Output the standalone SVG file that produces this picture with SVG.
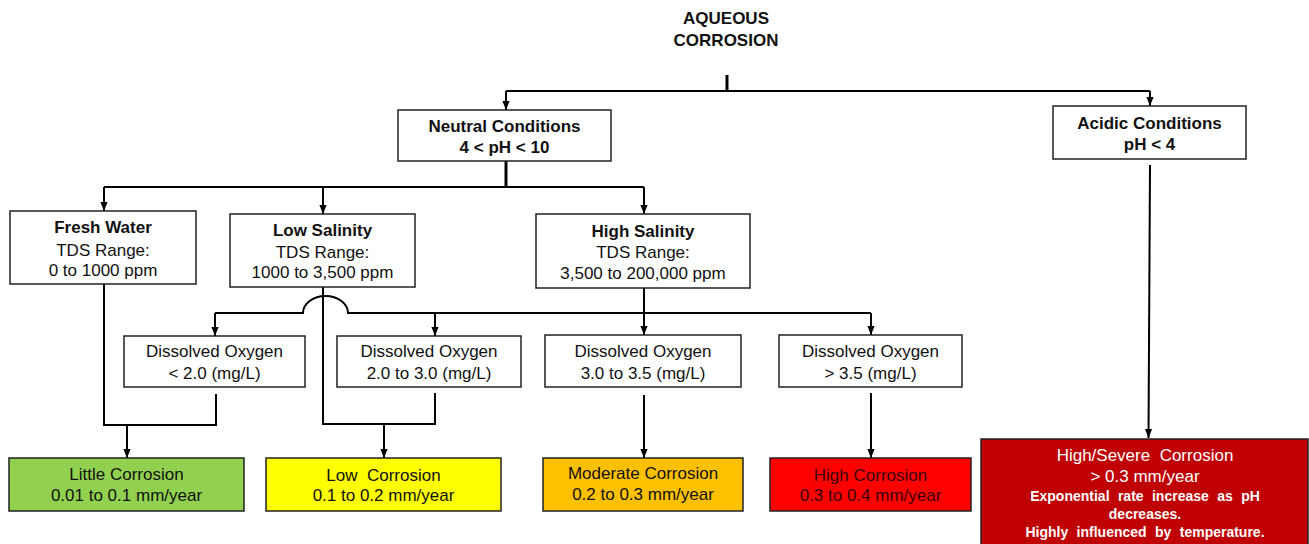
<svg xmlns="http://www.w3.org/2000/svg" width="1309" height="544" viewBox="0 0 1309 544">
<style>
  .bx{fill:#fff;stroke:#222;stroke-width:1.5}
  .t{font-family:"Liberation Sans",Arial,sans-serif;font-size:17px;fill:#111;text-anchor:middle}
  .b{font-weight:bold}
  .c{fill:none;stroke:#000;stroke-width:2}
  .ca{fill:none;stroke:#000;stroke-width:2;marker-end:url(#ah)}
  .w{fill:#fff}
  .sm{font-size:14px;font-weight:bold;word-spacing:4.5px}
</style>
<defs>
  <marker id="ah" viewBox="0 0 10 10" refX="10" refY="5" markerWidth="9" markerHeight="9" markerUnits="userSpaceOnUse" orient="auto">
    <path d="M0,1 L10,5 L0,9 z" fill="#000"/>
  </marker>
</defs>
<rect width="1309" height="544" fill="#fff"/>

<g id="connectors">
  <line x1="727" y1="75" x2="727" y2="91" stroke="#000" stroke-width="3"/>
  <path class="c" d="M506,91 H1150"/>
  <path class="ca" d="M506,91 V110"/>
  <path class="ca" d="M1150,91 V106"/>
  <line x1="506" y1="161" x2="506" y2="187" stroke="#000" stroke-width="3"/>
  <path class="c" d="M104,187 H644"/>
  <path class="ca" d="M104,187 V211"/>
  <path class="ca" d="M323,187 V214"/>
  <path class="ca" d="M644,187 V214"/>
  <path class="c" d="M644,288 V313"/>
  <path class="c" d="M215,313 H303 A22.5,17 0 0 1 348,313 H871"/>
  <path class="ca" d="M215,313 V336"/>
  <path class="ca" d="M435,313 V336"/>
  <path class="ca" d="M644,313 V335"/>
  <path class="ca" d="M871,313 V335"/>
  <path class="c" d="M104,284 V425 H216 V394"/>
  <path class="ca" d="M127,425 V458"/>
  <path class="c" d="M323,287 V424 H435 V393"/>
  <path class="ca" d="M384,424 V458"/>
  <path class="ca" d="M644,395 V458"/>
  <path class="ca" d="M871,393 V458"/>
  <path class="ca" d="M1150,165 L1148.5,438"/>
</g>

<g id="title">
  <text class="t b" x="726" y="24">AQUEOUS</text>
  <text class="t b" x="726" y="46">CORROSION</text>
</g>

<g id="neutral">
  <rect class="bx" x="398" y="110" width="213" height="51"/>
  <text class="t b" x="504.5" y="132">Neutral Conditions</text>
  <text class="t b" x="504.5" y="153">4 &lt; pH &lt; 10</text>
</g>

<g id="acidic">
  <rect class="bx" x="1053" y="106" width="193" height="53"/>
  <text class="t b" x="1149.5" y="129">Acidic Conditions</text>
  <text class="t b" x="1149.5" y="150">pH &lt; 4</text>
</g>

<g id="fresh">
  <rect class="bx" x="10" y="211" width="186" height="73"/>
  <text class="t b" x="103" y="233">Fresh Water</text>
  <text class="t" x="103" y="256">TDS Range:</text>
  <text class="t" x="103" y="276">0 to 1000 ppm</text>
</g>

<g id="lowsal">
  <rect class="bx" x="230" y="214" width="185" height="73"/>
  <text class="t b" x="322.5" y="236">Low Salinity</text>
  <text class="t" x="322.5" y="258">TDS Range:</text>
  <text class="t" x="322.5" y="278">1000 to 3,500 ppm</text>
</g>

<g id="highsal">
  <rect class="bx" x="536" y="214" width="214" height="74"/>
  <text class="t b" x="643" y="237">High Salinity</text>
  <text class="t" x="643" y="258">TDS Range:</text>
  <text class="t" x="643" y="279">3,500 to 200,000 ppm</text>
</g>

<g id="do1">
  <rect class="bx" x="124" y="336" width="181" height="51"/>
  <text class="t" x="214.5" y="357">Dissolved Oxygen</text>
  <text class="t" x="214.5" y="379">&lt; 2.0 (mg/L)</text>
</g>

<g id="do2">
  <rect class="bx" x="337" y="336" width="184" height="51"/>
  <text class="t" x="429" y="357">Dissolved Oxygen</text>
  <text class="t" x="429" y="379">2.0 to 3.0 (mg/L)</text>
</g>

<g id="do3">
  <rect class="bx" x="545" y="335" width="196" height="52"/>
  <text class="t" x="643" y="357">Dissolved Oxygen</text>
  <text class="t" x="643" y="379">3.0 to 3.5 (mg/L)</text>
</g>

<g id="do4">
  <rect class="bx" x="779" y="335" width="183" height="52"/>
  <text class="t" x="870.5" y="357">Dissolved Oxygen</text>
  <text class="t" x="870.5" y="379">&gt; 3.5 (mg/L)</text>
</g>

<g id="little">
  <rect class="bx" x="9" y="458" width="235" height="53" style="fill:#92D050"/>
  <text class="t" x="126.5" y="480">Little Corrosion</text>
  <text class="t" x="126.5" y="501">0.01 to 0.1 mm/year</text>
</g>

<g id="low">
  <rect class="bx" x="266" y="458" width="235" height="53" style="fill:#FFFF00"/>
  <text class="t" x="383.5" y="481" xml:space="preserve">Low  Corrosion</text>
  <text class="t" x="383.5" y="501">0.1 to 0.2 mm/year</text>
</g>

<g id="moderate">
  <rect class="bx" x="543" y="458" width="200" height="53" style="fill:#FFC000"/>
  <text class="t" x="643" y="479">Moderate Corrosion</text>
  <text class="t" x="643" y="500">0.2 to 0.3 mm/year</text>
</g>

<g id="high">
  <rect class="bx" x="770" y="458" width="201" height="53" style="fill:#FF0000"/>
  <text class="t" x="870.5" y="481" style="fill:#3a0000">High Corrosion</text>
  <text class="t" x="870.5" y="501" style="fill:#3a0000">0.3 to 0.4 mm/year</text>
</g>

<g id="severe">
  <rect class="bx" x="981" y="439" width="327" height="120" style="fill:#C00000"/>
  <text class="t w" x="1145" y="461" xml:space="preserve">High/Severe  Corrosion</text>
  <text class="t w" x="1145" y="482">&gt; 0.3 mm/year</text>
  <text class="t w sm" x="1145" y="501">Exponential rate increase as pH</text>
  <text class="t w sm" x="1145" y="519">decreases.</text>
  <text class="t w sm" x="1145" y="537">Highly influenced by temperature.</text>
</g>
</svg>
